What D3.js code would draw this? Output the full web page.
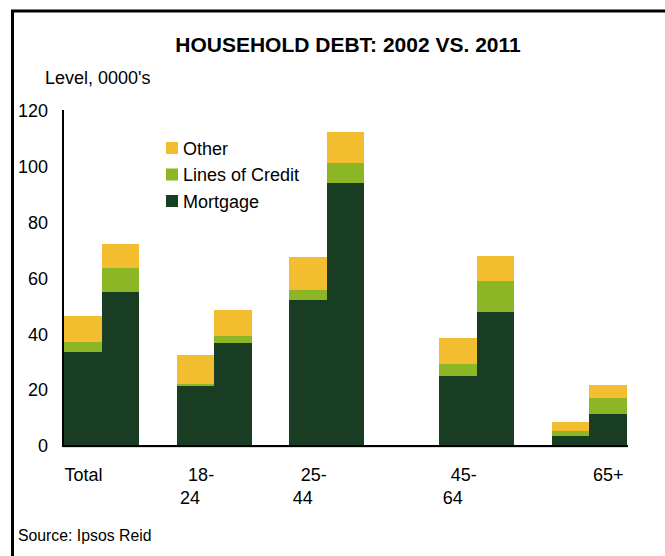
<!DOCTYPE html>
<html>
<head>
<meta charset="utf-8">
<script src="https://cdn.jsdelivr.net/npm/d3@7/dist/d3.min.js"></script>
<style>
  html, body { margin: 0; padding: 0; background: #fff; }
  svg { display: block; font-family: "Liberation Sans", Arial, sans-serif; }
</style>
</head>
<body>
<svg id="chart" width="665" height="556"></svg>
<script>
// Household debt by age group, 2002 vs 2011 (level, 0000's)
const categories = ["Total", "18-24", "25-44", "45-64", "65+"];
const years = ["2002", "2011"];
const components = ["mortgage", "credit", "other"];
const componentLabels = { mortgage: "Mortgage", credit: "Lines of Credit", other: "Other" };

const mortgage2002 = [33.7, 21.5, 52.3, 25.1, 3.6];
const mortgage2011 = [55.2, 36.9, 94.3, 48.0, 11.5];
const credit2002   = [3.6, 0.8, 3.6, 4.3, 1.8];
const credit2011   = [8.6, 2.5, 7.2, 11.1, 5.7];
const other2002    = [9.3, 10.3, 11.8, 9.3, 3.2];
const other2011    = [8.6, 9.3, 11.1, 9.0, 4.7];

const yTicks = [0, 20, 40, 60, 80, 100, 120];

const colors = { mortgage: "#183D23", credit: "#8DB626", other: "#F2BE30" };

// one row per bar
const rows = [];
categories.forEach((c, i) => {
  rows.push({ cat: c, year: "2002", mortgage: mortgage2002[i], credit: credit2002[i], other: other2002[i] });
  rows.push({ cat: c, year: "2011", mortgage: mortgage2011[i], credit: credit2011[i], other: other2011[i] });
});

// slot layout: each bar takes one slot, one empty slot between groups,
// two between the 25-44 and 45-64 groups
const slots = [];
categories.forEach((c, i) => {
  years.forEach(y => slots.push(c + "|" + y));
  if (i < categories.length - 1) {
    slots.push("gap" + i);
    if (c === "25-44") slots.push("gap" + i + "b");
  }
});

const svg = d3.select("#chart");

// outer frame
svg.append("path")
  .attr("d", "M12.5,560 V11 H670")
  .attr("fill", "none")
  .attr("stroke", "#000")
  .attr("stroke-width", 3);

const x = d3.scaleBand().domain(slots).range([64, 627]).paddingInner(0).paddingOuter(0);
const y = d3.scaleLinear().domain([0, 120]).range([446, 111]);

// title and unit
svg.append("text")
  .attr("x", 348).attr("y", 52)
  .attr("text-anchor", "middle")
  .attr("font-size", 21).attr("font-weight", "bold")
  .text("HOUSEHOLD DEBT: 2002 VS. 2011");

svg.append("text")
  .attr("x", 45).attr("y", 84)
  .attr("font-size", 18)
  .text("Level, 0000's");

// y axis labels
const yAxis = d3.axisLeft(y).tickValues(yTicks).tickSize(0).tickPadding(15);
const yg = svg.append("g").attr("transform", "translate(63,0)").call(yAxis);
yg.select(".domain").remove();
yg.selectAll("text").attr("font-size", 18).attr("font-family", "Liberation Sans, Arial, sans-serif").attr("fill", "#000");

// stacked bars
const stack = d3.stack().keys(components);
const series = stack(rows);

svg.append("g")
  .attr("shape-rendering", "crispEdges")
  .selectAll("g")
  .data(series)
  .join("g")
  .attr("fill", d => colors[d.key])
  .selectAll("rect")
  .data(d => d)
  .join("rect")
  .attr("x", d => Math.round(x(d.data.cat + "|" + d.data.year)))
  .attr("width", d => Math.round(x(d.data.cat + "|" + d.data.year) + x.bandwidth()) - Math.round(x(d.data.cat + "|" + d.data.year)))
  .attr("y", d => y(d[1]))
  .attr("height", d => y(d[0]) - y(d[1]));

// axis lines
svg.append("line")
  .attr("x1", 63).attr("x2", 63)
  .attr("y1", y(120) - 1).attr("y2", y(0))
  .attr("stroke", "#000").attr("stroke-width", 2);
svg.append("line")
  .attr("x1", 63).attr("x2", 628)
  .attr("y1", y(0) + 1.2).attr("y2", y(0) + 1.2)
  .attr("stroke", "#c8c8c8").attr("stroke-width", 1);
svg.append("line")
  .attr("x1", 62).attr("x2", 628)
  .attr("y1", y(0)).attr("y2", y(0))
  .attr("stroke", "#000").attr("stroke-width", 2.2);

// category labels (age ranges wrap after the hyphen)
const labelShift = { "Total": 1, "65+": 34 };
const catLabels = svg.append("g").attr("font-size", 18).attr("fill", "#000");
categories.forEach(c => {
  const cx = x(c + "|2011");
  const parts = c.includes("-") ? [c.slice(0, c.indexOf("-") + 1), c.slice(c.indexOf("-") + 1)] : [c];
  catLabels.append("text")
    .attr("x", cx + (labelShift[c] || 0)).attr("y", 481)
    .attr("text-anchor", "end")
    .text(parts[0]);
  if (parts[1]) {
    catLabels.append("text")
      .attr("x", cx - 24).attr("y", 504)
      .attr("text-anchor", "middle")
      .text(parts[1]);
  }
});

// legend
const legendKeys = ["other", "credit", "mortgage"];
const legend = svg.append("g").attr("transform", "translate(166,142)");
legendKeys.forEach((k, i) => {
  const g = legend.append("g").attr("transform", `translate(0,${i * 26.5})`);
  g.append("rect").attr("width", 12).attr("height", 12).attr("fill", colors[k]);
  g.append("text").attr("x", 17).attr("y", 12.5).attr("font-size", 18).text(componentLabels[k]);
});

// source note
svg.append("text")
  .attr("x", 18).attr("y", 541)
  .attr("font-size", 15.8)
  .text("Source: Ipsos Reid");
</script>
</body>
</html>
